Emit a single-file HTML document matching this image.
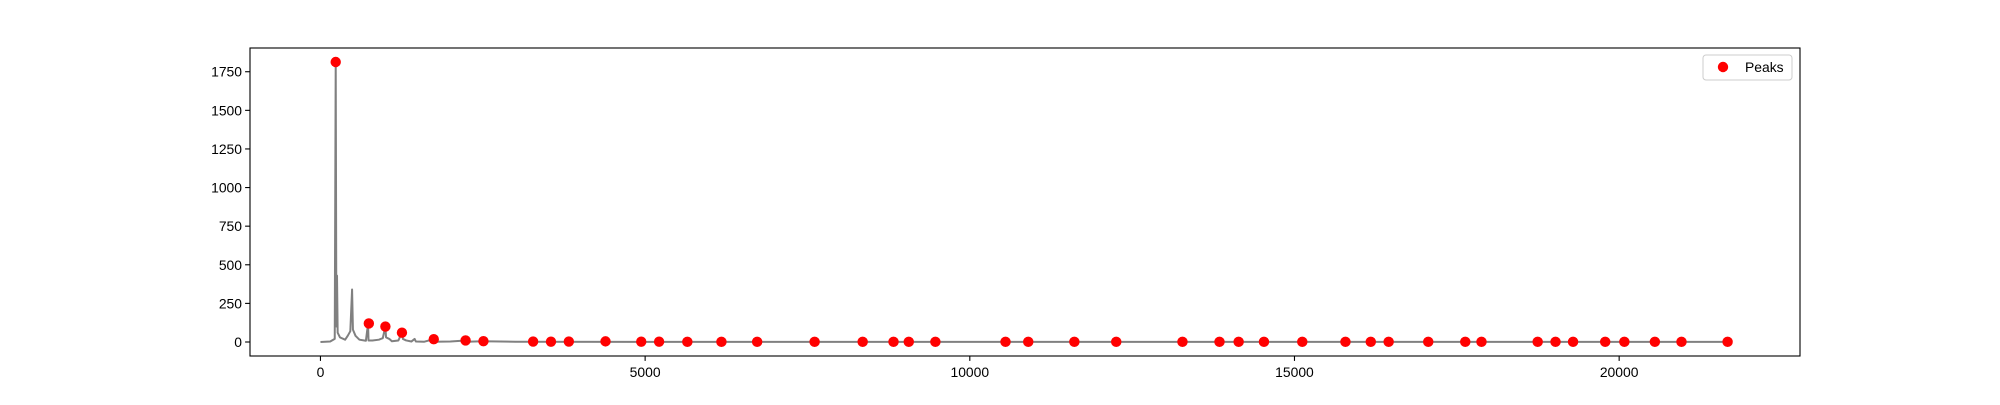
<!DOCTYPE html>
<html><head><meta charset="utf-8"><style>
body{margin:0;background:#fff;}
svg text{font-family:"Liberation Sans","DejaVu Sans",sans-serif;font-size:13.9px;fill:#000;}
</style></head><body>
<svg id="chart" width="2000" height="400" xmlns="http://www.w3.org/2000/svg">
<rect width="2000" height="400" fill="#fff"/>
<g id="plot"></g>
</svg>
<script>
const lineFreq=[0,150,220,235,245,255,265,300,380,420,460,487,500,540,600,700,733,740,800,900,960,1000,1010,1060,1100,1200,1255,1270,1320,1400,1450,1470,1600,1745,1760,2000,2235,2250,2500,3000,5000,10000,15000,21700];
const lineAmp=[0,3,20,1813,100,430,60,30,15,40,70,340,80,40,15,8,120,10,10,15,25,100,30,20,5,10,60,20,10,3,20,3,2,18,2,3,10,2,5,2,1,1,1,1];
const peakFreq=[235,745,1000,1255,1745,2235,2510,3275,3550,3825,4390,4940,5215,5650,6175,6725,7610,8350,8825,9060,9470,10550,10900,11610,12255,13275,13845,14140,14530,15120,15785,16175,16450,17060,17630,17880,18745,19020,19290,19785,20080,20550,20960,21670];
const peakAmp=[1813,120,100,60,18,10,5,3,2,3,4,2,2,1,1,1,1,1,1,1,1,1,1,1,1,1,1,1,1,1,1,1,1,1,1,1,1,1,1,1,1,1,1,1];
const xTicks=[0,5000,10000,15000,20000];
const yTicks=[0,250,500,750,1000,1250,1500,1750];

const L=250,R=1800,T=48,B=356;
const xmax=Math.max(...lineFreq,...peakFreq),xmin=0;
const xm=(xmax-xmin)*0.05;
const ymax=Math.max(...lineAmp,...peakAmp),ymin=0;
const ym=(ymax-ymin)*0.05;
const X=v=>L+(v-(xmin-xm))/((xmax+xm)-(xmin-xm))*(R-L);
const Y=v=>B-(v-(ymin-ym))/((ymax+ym)-(ymin-ym))*(B-T);
const g=document.getElementById('plot');
const NS='http://www.w3.org/2000/svg';
function mk(t,a){const e=document.createElementNS(NS,t);for(const k in a)e.setAttribute(k,a[k]);g.appendChild(e);return e;}

const pl=mk('polyline',{points:lineFreq.map((f,i)=>X(f)+','+Y(lineAmp[i])).join(' '),fill:'none',stroke:'#808080','stroke-width':2,'stroke-linejoin':'round'});



peakFreq.forEach((f,i)=>{
  const c=mk('circle',{cx:X(f),cy:Y(peakAmp[i]),r:5.2,fill:'#ff0000'});
  
  
});

const fr=mk('rect',{x:L,y:T,width:R-L,height:B-T,fill:'none',stroke:'#000','stroke-width':1.1});



xTicks.forEach(v=>{
  const x=X(v);
  const t=mk('line',{x1:x,x2:x,y1:B,y2:B+4.9,stroke:'#000','stroke-width':1.1});
  
  
  const tx=mk('text',{x:x,y:B+21,'text-anchor':'middle'});tx.textContent=v;
  
  
});
yTicks.forEach(v=>{
  const y=Y(v);
  const t=mk('line',{x1:L-4.9,x2:L,y1:y,y2:y,stroke:'#000','stroke-width':1.1});
  
  
  const tx=mk('text',{x:L-8,y:y+5,'text-anchor':'end'});tx.textContent=v;
  
  
});

const lg=mk('rect',{x:1703,y:55,width:89,height:25,rx:3,fill:'#fff',stroke:'#ccc','stroke-width':1});


const lm=mk('circle',{cx:1723,cy:67,r:5.2,fill:'#ff0000'});


const lt=mk('text',{x:1745,y:72});lt.textContent='Peaks';


</script>
</body></html>
